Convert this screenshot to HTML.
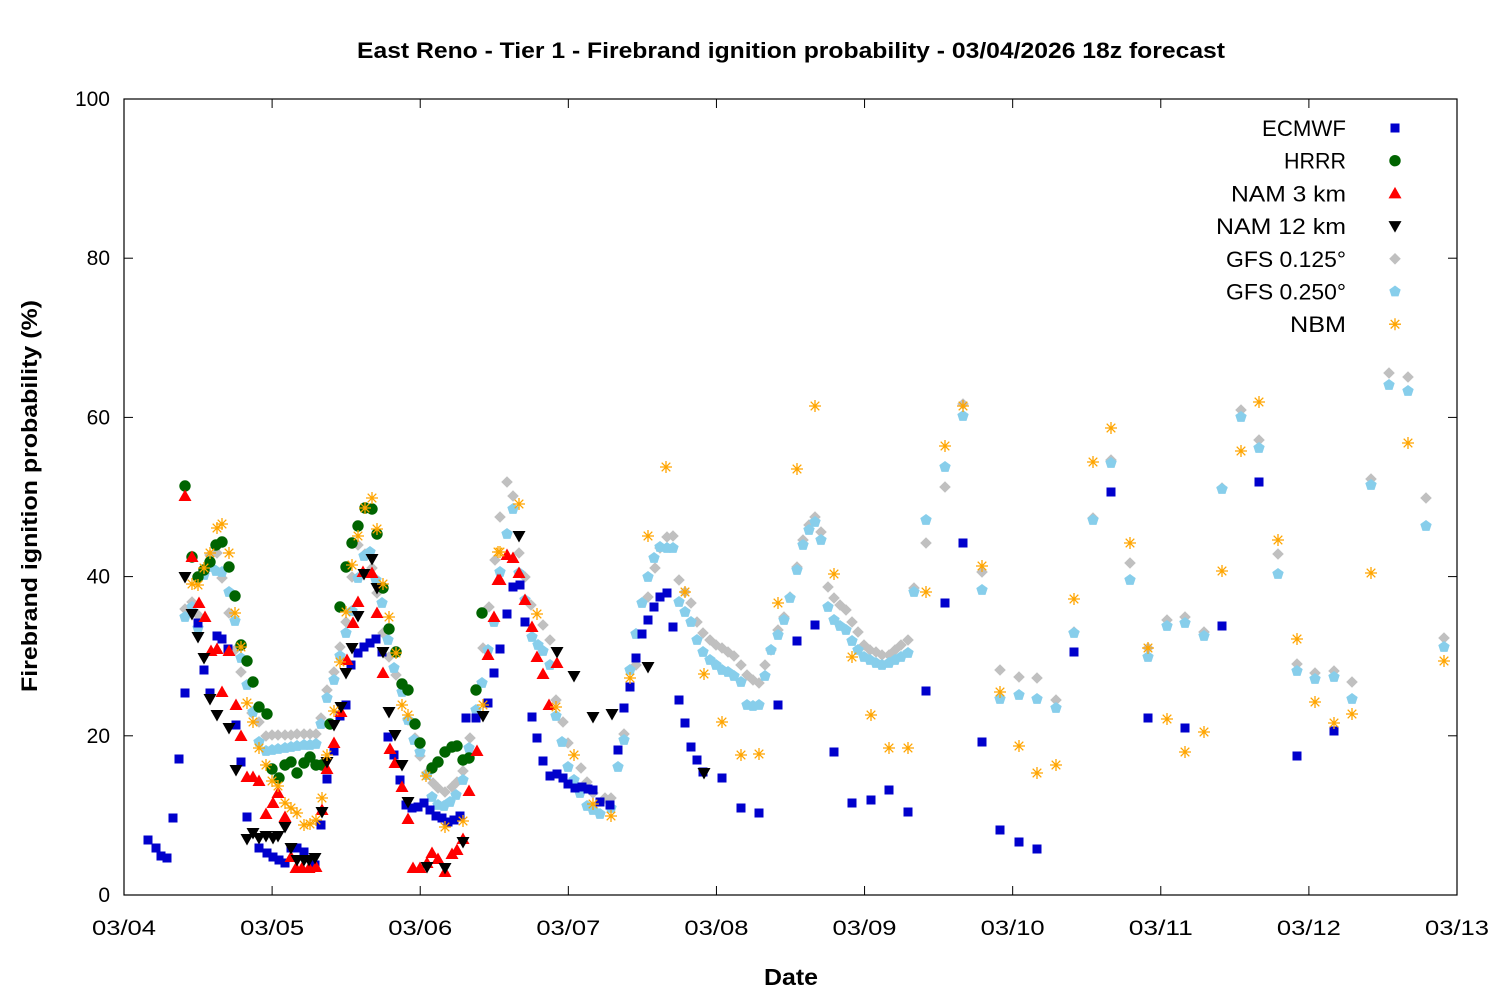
<!DOCTYPE html>
<html><head><meta charset="utf-8"><style>
body{margin:0;background:#fff}
svg{display:block}
text{font-family:"Liberation Sans","DejaVu Sans",sans-serif;fill:#000}
</style></head><body>
<svg id="s" width="1500" height="1000" viewBox="0 0 1500 1000" xmlns="http://www.w3.org/2000/svg">
<rect width="1500" height="1000" fill="#fff"/>
<text x="791" y="58" font-size="22" font-weight="bold" text-anchor="middle" textLength="868" lengthAdjust="spacingAndGlyphs">East Reno - Tier 1 - Firebrand ignition probability - 03/04/2026 18z forecast</text>
<text x="791" y="985" font-size="23" font-weight="bold" text-anchor="middle" textLength="54" lengthAdjust="spacingAndGlyphs">Date</text>
<text transform="translate(37,496) rotate(-90)" font-size="22" font-weight="bold" text-anchor="middle" textLength="392" lengthAdjust="spacingAndGlyphs">Firebrand ignition probability (%)</text>
<g id="ax"></g>
<g id="pts"></g>
<g id="leg"></g>
</svg>
<script>
const NS="http://www.w3.org/2000/svg";
function el(p,t,a,txt){const e=document.createElementNS(NS,t);for(const k in a)e.setAttribute(k,a[k]);if(txt!==undefined)e.textContent=txt;document.getElementById(p).appendChild(e);return e;}
const L=124,R=1457,T=99,B=895;
el('ax','rect',{x:L,y:T,width:R-L,height:B-T,fill:'none',stroke:'#000','stroke-width':1.2});
for(let i=0;i<=5;i++){const y=B-i*(B-T)/5;
 el('ax','line',{x1:L,y1:y,x2:L+9,y2:y,stroke:'#000'});el('ax','line',{x1:R-9,y1:y,x2:R,y2:y,stroke:'#000'});
 el('ax','text',{x:110,y:y+7,'font-size':21,'text-anchor':'end'},String(i*20));}
const days=['03/04','03/05','03/06','03/07','03/08','03/09','03/10','03/11','03/12','03/13'];
days.forEach((d,i)=>{const x=L+i*(R-L)/9;
 el('ax','line',{x1:x,y1:B,x2:x,y2:B-9,stroke:'#000'});el('ax','line',{x1:x,y1:T,x2:x,y2:T+9,stroke:'#000'});
 el('ax','text',{x:x,y:935,'font-size':21,'text-anchor':'middle',textLength:64,lengthAdjust:'spacingAndGlyphs'},d);});
function P(a){const r=[];for(let i=0;i<a.length;i+=2)r.push([a[i],a[i+1]]);return r;}
const gfs1=P([185,609,192,602,198,615,210,555,217,553,222,578,229,613,235,650,241,672,252,713,259,722,266,736,272,735,278,735,285,735,291,735,297,734,304,734,310,734,316,734,321,718,327,690,334,672,340,647,346,622,352,577,358,545,365,554,372,568,377,593,383,633,389,657,396,675,408,720,415,738,420,756,427,773,433,783,438,788,445,792,452,787,457,782,463,771,470,738,483,648,489,607,495,560,500,517,507,482,513,496,519,553,525,577,531,605,543,625,550,640,556,700,563,722,568,743,581,768,587,782,593,793,605,798,611,798,624,734,636,665,648,597,655,568,660,548,667,537,673,536,679,580,685,592,691,603,697,622,703,633,710,640,716,645,722,648,728,652,734,656,741,665,747,675,753,680,759,683,765,665,771,650,778,630,784,617,790,597,797,567,803,540,809,525,815,517,821,532,828,587,834,598,840,605,846,610,852,622,858,632,864,645,870,650,876,652,882,655,889,655,895,650,901,645,908,640,914,588,926,543,945,487,963,404,982,572,1000,670,1019,677,1037,678,1056,700,1074,632,1093,518,1111,460,1130,563,1148,648,1167,620,1185,617,1204,632,1222,488,1241,410,1259,440,1278,554,1297,664,1315,673,1334,671,1352,682,1371,479,1389,373,1408,377,1426,498,1444,638]);
const gfs2=P([185,617,192,607,198,628,204,575,210,567,216,571,222,572,229,592,235,621,241,658,247,685,253,712,259,742,266,751,272,750,278,749,285,748,291,747,297,746,304,745,310,745,316,744,321,724,327,698,334,680,340,656,346,633,352,611,358,578,364,556,370,552,376,580,382,603,388,640,394,668,402,692,408,720,414,740,420,752,427,775,432,797,438,805,444,806,450,802,456,795,463,780,469,748,476,710,482,683,488,650,494,622,500,572,507,534,513,509,519,573,525,600,532,637,538,645,543,651,550,665,556,716,562,742,568,767,574,780,580,793,587,806,593,810,600,814,611,808,618,767,624,740,630,670,636,634,642,603,648,577,654,558,660,547,667,548,673,548,679,602,685,612,691,622,697,640,703,652,710,660,716,665,722,670,728,672,734,676,741,682,747,705,753,706,759,705,765,676,771,650,778,635,784,620,790,598,797,570,803,545,809,530,815,522,821,540,828,607,834,620,840,626,846,630,852,641,858,650,864,657,870,660,876,663,882,665,889,663,895,660,901,657,908,653,914,592,926,520,945,467,963,416,982,590,1000,699,1019,695,1037,699,1056,708,1074,633,1093,520,1111,463,1130,580,1148,657,1167,626,1185,623,1204,636,1222,489,1241,417,1259,448,1278,574,1297,671,1315,679,1334,677,1352,699,1371,485,1389,385,1408,391,1426,526,1444,647]);
const ec=P([148,840,156,848,161,856,167,858,173,818,179,759,185,693,198,623,204,670,210,693,217,636,222,639,228,649,236,725,241,762,247,817,259,848,267,853,273,857,279,860,285,863,291,848,297,848,304,852,315,865,321,825,327,779,334,751,340,716,346,705,351,665,358,653,364,647,370,643,376,639,382,652,388,737,394,755,400,780,406,805,412,808,418,807,424,803,430,810,436,816,442,818,448,822,454,820,460,816,466,718,476,718,488,703,494,673,500,649,507,614,513,587,520,585,525,622,532,717,537,738,543,761,550,776,557,774,563,778,568,784,575,788,582,787,588,789,593,790,600,802,610,805,618,750,624,708,630,687,636,658,642,634,648,620,654,607,660,597,667,593,673,627,679,700,685,723,691,747,697,760,703,772,722,778,741,808,759,813,778,705,797,641,815,625,834,752,852,803,871,800,889,790,908,812,926,691,945,603,963,543,982,742,1000,830,1019,842,1037,849,1074,652,1111,492,1148,718,1185,728,1222,626,1259,482,1297,756,1334,731]);
const hr=P([185,486,192,557,198,577,204,570,210,562,216,545,222,542,229,567,235,596,241,645,247,661,253,682,259,707,267,714,272,769,279,778,285,765,291,762,297,773,304,763,310,757,316,765,322,765,330,724,340,607,346,567,352,543,358,526,365,508,372,509,377,534,383,588,389,629,396,652,402,684,408,690,415,724,420,743,432,768,438,762,445,752,452,747,457,746,463,760,469,758,476,690,482,613]);
const n3=P([185,496,192,557,199,603,205,617,211,651,217,649,222,692,229,651,236,705,241,736,247,777,253,777,259,781,266,814,273,803,278,793,285,817,291,857,296,868,302,868,309,868,316,867,322,810,327,769,334,743,341,712,347,660,353,623,358,602,363,572,372,573,377,613,383,673,390,749,395,763,402,787,408,819,413,868,420,868,427,863,432,853,438,859,445,872,452,854,457,850,463,839,469,791,477,751,488,655,494,617,498,580,500,580,507,555,513,558,519,573,525,600,532,627,537,657,543,674,549,705,557,663]);
const n12=P([185,577,192,614,198,637,204,658,210,699,217,715,229,728,236,770,247,839,253,833,259,838,266,836,273,838,278,836,285,827,291,848,297,860,304,860,309,860,315,858,322,812,327,762,334,725,341,707,346,673,352,648,358,616,364,574,372,559,377,588,383,652,389,712,395,735,402,765,408,802,427,867,445,868,463,842,483,716,519,536,557,652,574,676,593,717,612,714,648,667,704,773]);
const nbm=P([192,584,198,585,204,568,210,553,217,528,222,524,229,553,235,613,241,647,247,703,253,722,259,748,266,765,272,781,278,786,285,803,291,808,297,813,304,825,310,824,316,820,322,798,327,755,334,711,340,662,346,612,352,565,358,536,365,508,372,498,377,529,383,584,389,617,396,653,402,705,408,715,426,776,445,827,463,821,483,705,498,552,500,552,519,504,537,614,556,707,574,755,593,804,611,816,630,678,648,536,666,467,685,592,704,674,722,722,741,755,759,754,778,603,797,469,815,406,834,574,852,657,871,715,889,748,908,748,926,592,945,446,963,406,982,566,1000,692,1019,746,1037,773,1056,765,1074,599,1093,462,1111,428,1130,543,1148,648,1167,719,1185,752,1204,732,1222,571,1241,451,1259,402,1278,540,1297,639,1315,702,1334,723,1352,714,1371,573,1408,443,1444,661]);
function sq(g,x,y){el(g,'rect',{x:x-4.5,y:y-4.5,width:9,height:9,fill:'#0000cc'});}
function ci(g,x,y){el(g,'circle',{cx:x,cy:y,r:5.7,fill:'#006400'});}
function tu(g,x,y){el(g,'polygon',{points:`${x},${y-6.5} ${x+6.5},${y+5} ${x-6.5},${y+5}`,fill:'#ff0000'});}
function td(g,x,y){el(g,'polygon',{points:`${x},${y+6.5} ${x+6.5},${y-5} ${x-6.5},${y-5}`,fill:'#000'});}
function di(g,x,y){el(g,'polygon',{points:`${x},${y-5.8} ${x+5.8},${y} ${x},${y+5.8} ${x-5.8},${y}`,fill:'#c0c0c0'});}
function pe(g,x,y){let p=[];for(let k=0;k<5;k++){const a=-Math.PI/2+k*2*Math.PI/5;p.push((x+6*Math.cos(a)).toFixed(1)+','+(y+6*Math.sin(a)).toFixed(1));}el(g,'polygon',{points:p.join(' '),fill:'#87ceeb'});}
function as(g,x,y){const s=6;el(g,'path',{d:`M${x-s},${y}H${x+s}M${x},${y-s}V${y+s}M${x-4.3},${y-4.3}L${x+4.3},${y+4.3}M${x-4.3},${y+4.3}L${x+4.3},${y-4.3}`,stroke:'#ffa500','stroke-width':1.3,fill:'none'});}
gfs1.forEach(p=>di('pts',...p));
gfs2.forEach(p=>pe('pts',...p));
ec.forEach(p=>sq('pts',...p));
hr.forEach(p=>ci('pts',...p));
n3.forEach(p=>tu('pts',...p));
n12.forEach(p=>td('pts',...p));
nbm.forEach(p=>as('pts',...p));
const lg=[['ECMWF',sq,84],['HRRR',ci,62],['NAM 3 km',tu,115],['NAM 12 km',td,130],['GFS 0.125°',di,120],['GFS 0.250°',pe,120],['NBM',as,56]];
lg.forEach((l,i)=>{const y=128+i*32.7;el('leg','text',{x:1346,y:y+8,'font-size':22,'text-anchor':'end',textLength:l[2],lengthAdjust:'spacingAndGlyphs'},l[0]);l[1]('leg',1395,y);});
</script>
</body></html>
